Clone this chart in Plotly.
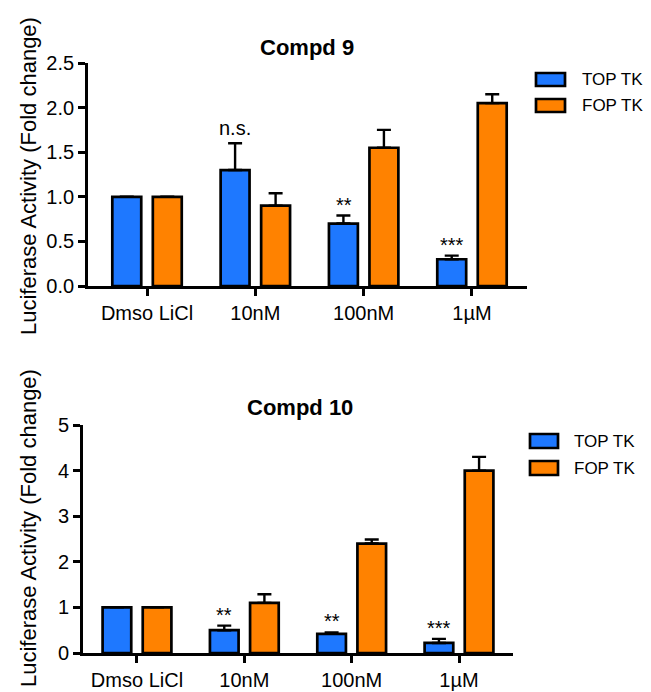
import plotly.graph_objects as go
from plotly.subplots import make_subplots

categories = ["Dmso LiCl", "10nM", "100nM", "1µM"]
series_names = ["TOP TK", "FOP TK"]

# Compd 9
c9_top = [1.0, 1.3, 0.70, 0.30]
c9_top_err = [0.0, 0.30, 0.09, 0.04]
c9_fop = [1.0, 0.90, 1.55, 2.05]
c9_fop_err = [0.0, 0.14, 0.20, 0.10]
c9_sig = ["", "n.s.", "**", "***"]

# Compd 10
c10_top = [1.0, 0.50, 0.42, 0.22]
c10_top_err = [0.0, 0.10, 0.03, 0.09]
c10_fop = [1.0, 1.10, 2.40, 4.00]
c10_fop_err = [0.0, 0.19, 0.09, 0.30]
c10_sig = ["", "**", "**", "***"]

BLUE = "#1E78FF"
ORANGE = "#FF8200"
FONT = "Liberation Sans, Arial, sans-serif"
W, H = 651, 692

fig = make_subplots(rows=2, cols=1)

def add_bars(row, top, top_err, fop, fop_err):
    for name, vals, err, col in [(series_names[0], top, top_err, BLUE),
                                 (series_names[1], fop, fop_err, ORANGE)]:
        fig.add_trace(go.Bar(
            x=categories, y=vals, name=name, showlegend=False,
            marker=dict(color=col, line=dict(color="black", width=2.7)),
            error_y=dict(type="data", symmetric=False, array=err,
                         arrayminus=[0] * len(err), color="black",
                         thickness=2.4, width=7),
        ), row=row, col=1)

add_bars(1, c9_top, c9_top_err, c9_fop, c9_fop_err)
add_bars(2, c10_top, c10_top_err, c10_fop, c10_fop_err)

axis_common = dict(showline=True, linecolor="black", linewidth=2.7,
                   ticks="outside", ticklen=7, tickwidth=2.5, tickcolor="black",
                   showgrid=False, zeroline=False, automargin=False)

fig.update_layout(
    template="none",
    xaxis=dict(domain=[88 / W, 527 / W], range=[-0.545, 3.508]),
    yaxis=dict(domain=[1 - 286 / H, 1 - 63 / H], range=[0, 2.5],
               tickvals=[0, 0.5, 1.0, 1.5, 2.0, 2.5],
               ticktext=["0.0", "0.5", "1.0", "1.5", "2.0", "2.5"]),
    xaxis2=dict(domain=[83 / W, 513 / W], range=[-0.503, 3.503]),
    yaxis2=dict(domain=[1 - 653 / H, 1 - 425 / H], range=[0, 5],
                tickvals=[0, 1, 2, 3, 4, 5]),
    barmode="group", bargap=0.252, bargroupgap=0.286,
    width=W, height=H, margin=dict(l=0, r=0, t=0, b=0),
    plot_bgcolor="white", paper_bgcolor="white",
    font=dict(family=FONT, color="black"),
    showlegend=False,
)
fig.update_xaxes(**axis_common, tickfont=dict(family=FONT, size=20, color="black"))
fig.update_yaxes(**axis_common, tickfont=dict(family=FONT, size=20, color="black"))

annotations = []
# titles
annotations.append(dict(text="<b>Compd 9</b>", x=307 / W, y=1 - 47 / H, xref="paper", yref="paper",
                        xanchor="center", yanchor="middle",
                        showarrow=False, font=dict(size=22, family=FONT, color="black")))
annotations.append(dict(text="<b>Compd 10</b>", x=300 / W, y=1 - 407 / H, xref="paper", yref="paper",
                        xanchor="center", yanchor="middle",
                        showarrow=False, font=dict(size=22, family=FONT, color="black")))
# y axis titles
for yc in [176, 528]:
    annotations.append(dict(text="Luciferase Activity (Fold change)", x=28 / W, y=1 - yc / H,
                            xref="paper", yref="paper", xanchor="center", yanchor="middle",
                            showarrow=False, textangle=-90,
                            font=dict(size=22, family=FONT, color="black")))
# significance labels
for xr, yr, top, err, sig in [("x", "y", c9_top, c9_top_err, c9_sig),
                              ("x2", "y2", c10_top, c10_top_err, c10_sig)]:
    for cat, v, e, s in zip(categories, top, err, sig):
        if s:
            annotations.append(dict(text=s, x=cat, y=v + e, xref=xr, yref=yr,
                                    xshift=-20, yshift=15 if s == "n.s." else 11,
                                    showarrow=False,
                                    font=dict(size=20, family=FONT, color="black")))

# legends (manual)
shapes = []
for (bx0, bx1, tx, rows) in [(536, 565, 580, [(73, 86), (99, 112)]),
                             (530, 558, 572, [(434, 448), (461, 475)])]:
    for (y0, y1), name, col in zip(rows, series_names, [BLUE, ORANGE]):
        shapes.append(dict(type="rect", xref="paper", yref="paper",
                           x0=bx0 / W, x1=bx1 / W, y0=1 - y1 / H, y1=1 - y0 / H,
                           fillcolor=col, line=dict(color="black", width=2.7)))
        annotations.append(dict(text=name, x=tx / W, y=1 - ((y0 + y1) / 2) / H,
                                xref="paper", yref="paper", xanchor="left", yanchor="middle",
                                showarrow=False, font=dict(size=17, family=FONT, color="black")))

fig.update_layout(annotations=annotations, shapes=shapes)

fig.write_html("out.html", config={"displayModeBar": False},
               post_script="document.body.style.margin='0px';")
